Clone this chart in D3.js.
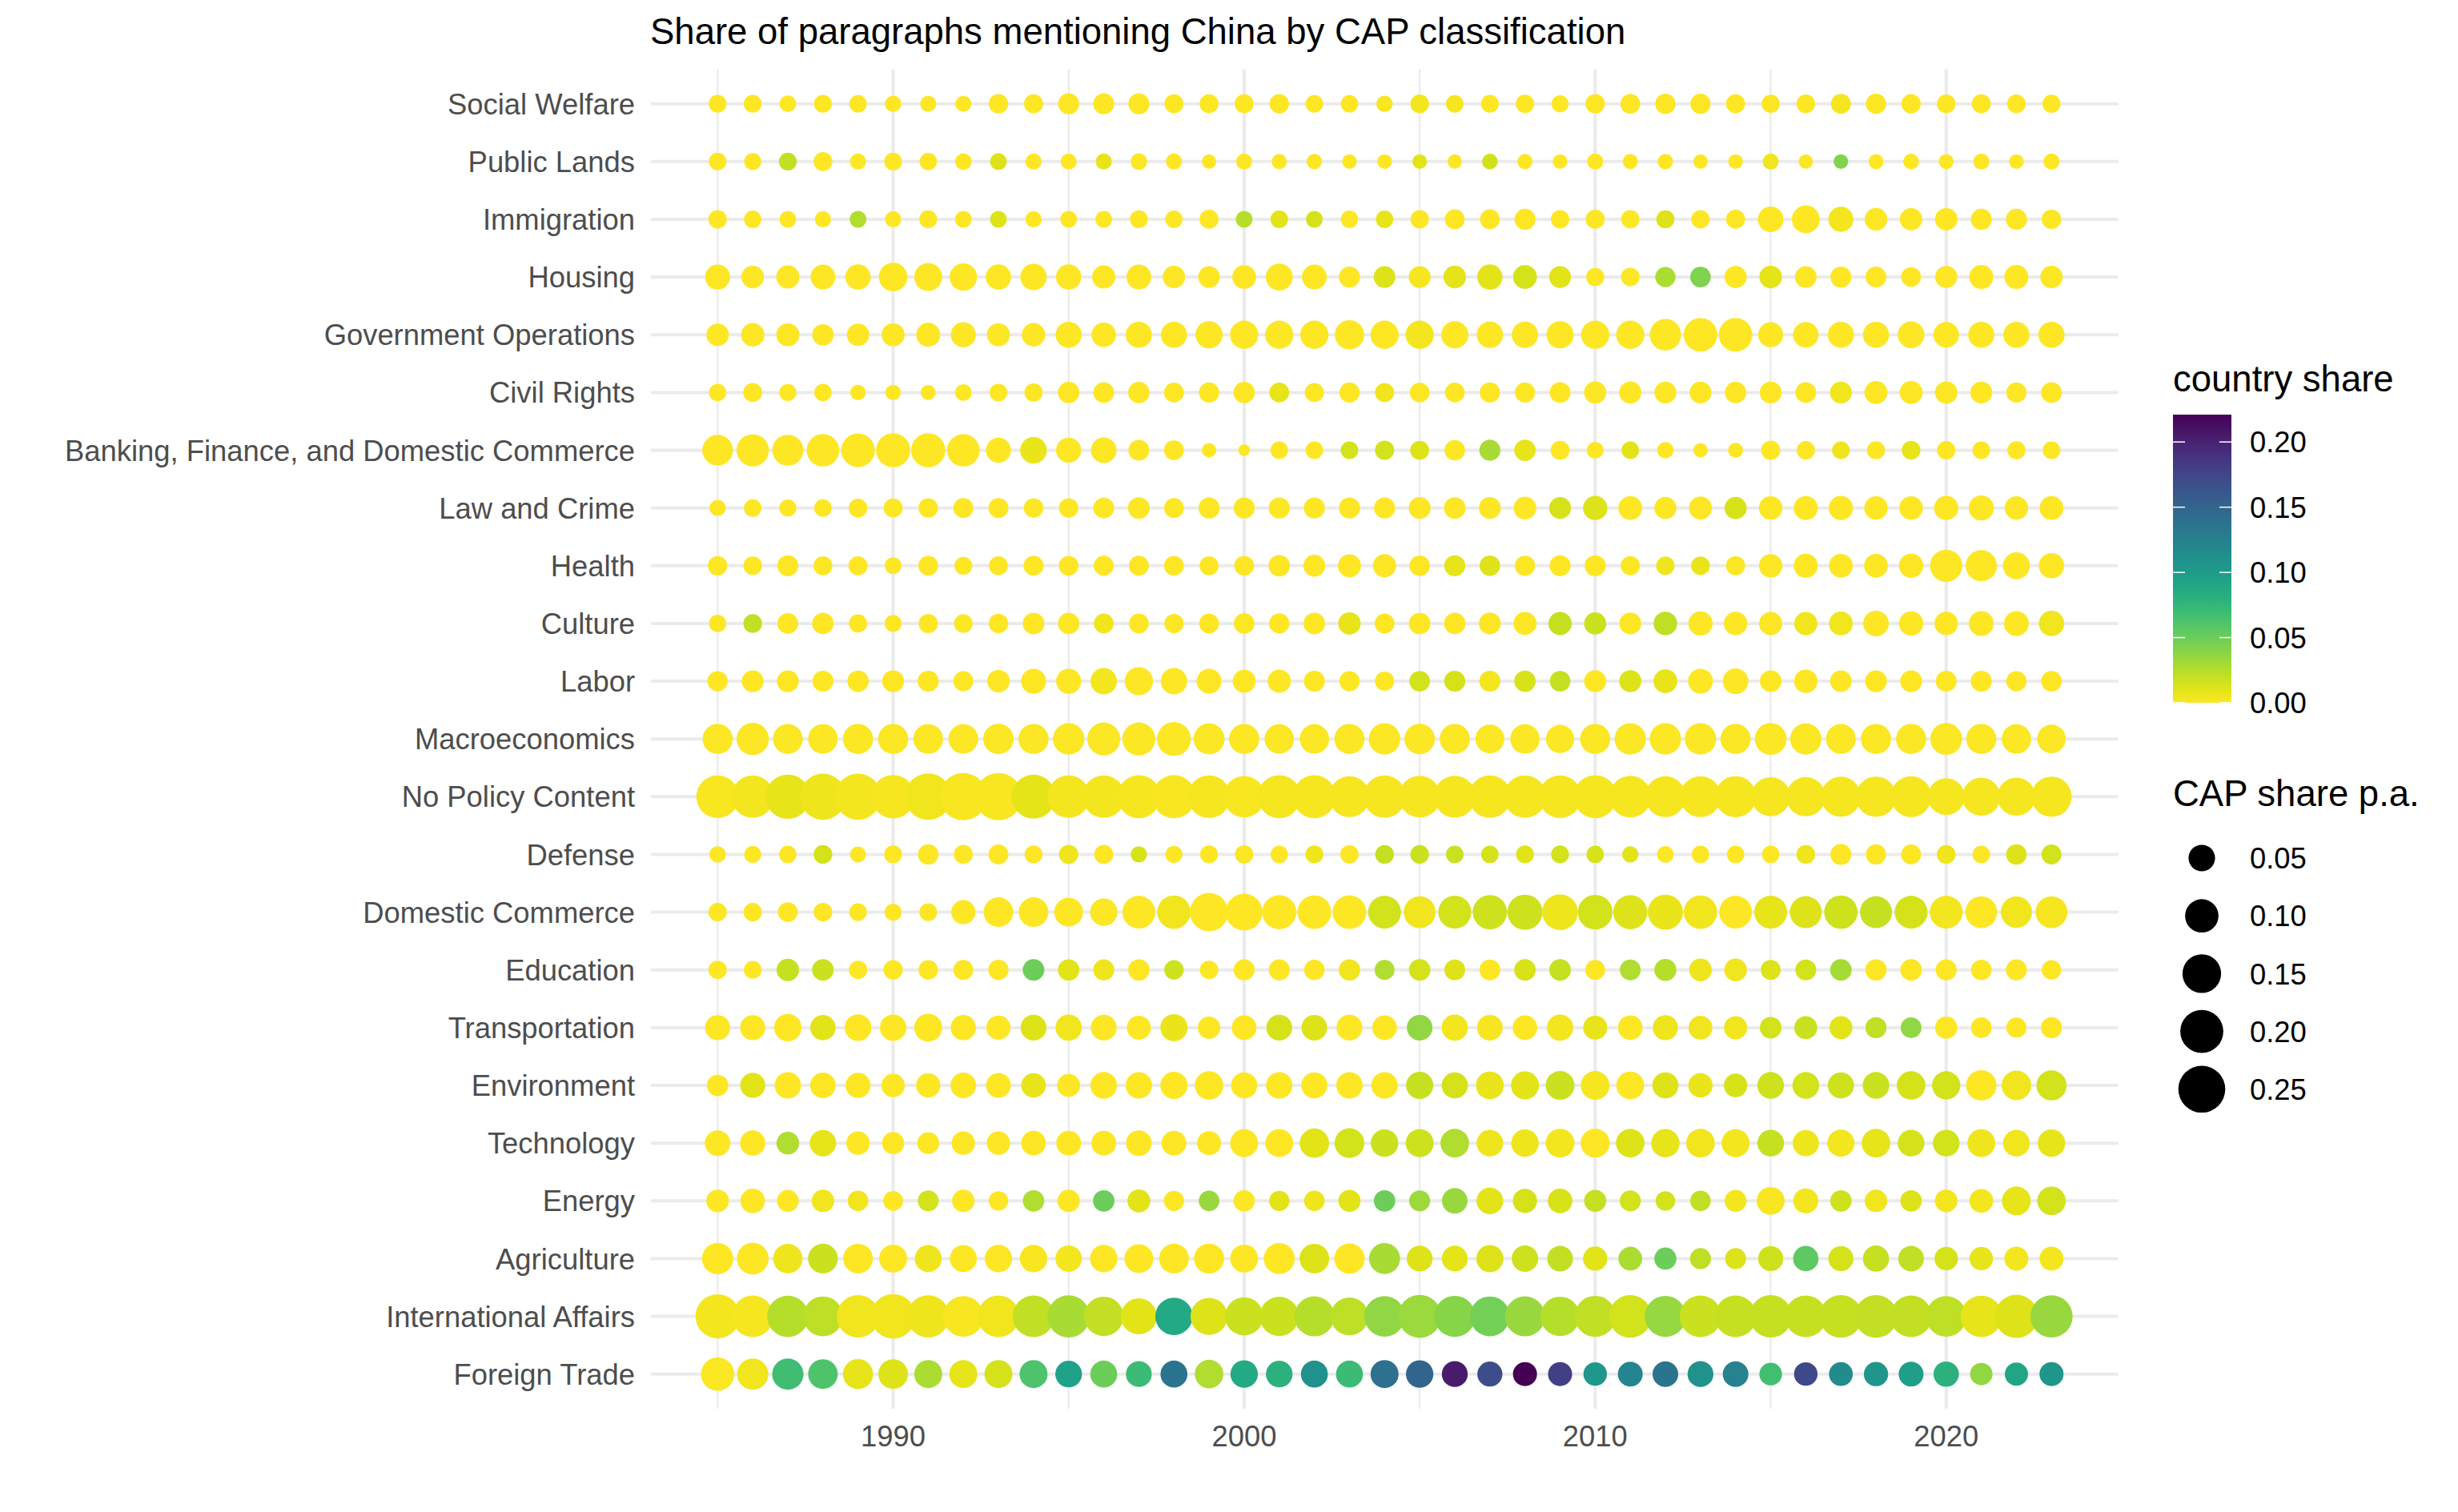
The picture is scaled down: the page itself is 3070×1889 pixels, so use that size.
<!DOCTYPE html>
<html><head><meta charset="utf-8">
<script src="https://cdn.jsdelivr.net/npm/d3@7"></script>
<style>
body{margin:0;background:#fff;}
svg{display:block;}
text{font-family:"Liberation Sans", Arial, Helvetica, sans-serif;}
</style>
</head><body>
<svg id="chart" width="3070" height="1889"></svg>
<script>
const titleText = "Share of paragraphs mentioning China by CAP classification";
const categories = ["Social Welfare","Public Lands","Immigration","Housing","Government Operations","Civil Rights","Banking, Finance, and Domestic Commerce","Law and Crime","Health","Culture","Labor","Macroeconomics","No Policy Content","Defense","Domestic Commerce","Education","Transportation","Environment","Technology","Energy","Agriculture","International Affairs","Foreign Trade"];
const years = [1985,1986,1987,1988,1989,1990,1991,1992,1993,1994,1995,1996,1997,1998,1999,2000,2001,2002,2003,2004,2005,2006,2007,2008,2009,2010,2011,2012,2013,2014,2015,2016,2017,2018,2019,2020,2021,2022,2023];
const xTicks = [1990,2000,2010,2020];
const xMinorTicks = [1985,1995,2005,2015];
const colorTicks = [0,0.05,0.10,0.15,0.20];
const sizeTicks = [0.05,0.10,0.15,0.20,0.25];

// CAP share p.a. (size) and country share (colour), one pair per category, years 1985-2023
const capSocialWelfare = [0.011,0.011,0.0083,0.011,0.0098,0.007,0.0065,0.0065,0.0162,0.0146, 0.0221,0.0221,0.0221,0.0146,0.0146,0.0146,0.0162,0.0104,0.0098,0.007, 0.0135,0.0104,0.011,0.0127,0.009,0.0162,0.0172,0.019,0.019,0.0146, 0.012,0.0135,0.018,0.019,0.016,0.0135,0.0146,0.0135,0.012];
const shareSocialWelfare = [0,0,0,0,0,0,0,0,0,0, 0,0,0,0,0,0,0,0,0,0.002, 0.004,0.003,0,0,0,0,0,0,0,0, 0,0,0.003,0,0,0,0,0,0];

const capPublicLands = [0.0104,0.009,0.011,0.0146,0.0065,0.011,0.0098,0.0077,0.0083,0.007, 0.0065,0.0065,0.0077,0.0065,0.0034,0.0065,0.0048,0.0053,0.0038,0.0038, 0.0038,0.0034,0.0059,0.0048,0.0038,0.0065,0.0048,0.0053,0.0034,0.0038, 0.0065,0.0034,0.0038,0.0044,0.0059,0.0044,0.0065,0.0038,0.0065];
const sharePublicLands = [0,0,0.02,0,0,0,0,0,0.012,0, 0,0.008,0,0,0,0,0,0,0,0, 0.01,0,0.016,0,0,0,0,0,0,0, 0.005,0,0.043,0,0,0,0,0,0];

const capImmigration = [0.0127,0.0098,0.0083,0.007,0.0083,0.007,0.011,0.0083,0.0083,0.007, 0.0083,0.0083,0.011,0.0098,0.0146,0.0083,0.0104,0.0083,0.0098,0.0098, 0.0127,0.0173,0.0173,0.0221,0.0127,0.0146,0.0127,0.012,0.0127,0.0146, 0.0444,0.058,0.0413,0.029,0.028,0.028,0.0221,0.0221,0.0162];
const shareImmigration = [0,0,0,0,0.026,0,0,0,0.012,0, 0,0,0,0,0,0.025,0.01,0.014,0,0.008, 0,0,0,0,0,0,0,0.012,0,0, 0,0,0.004,0,0,0,0,0,0];

const capHousing = [0.0413,0.029,0.0317,0.0399,0.0427,0.063,0.0592,0.0556,0.0427,0.0491, 0.0427,0.0317,0.0399,0.028,0.0245,0.0345,0.0525,0.0399,0.0221,0.0245, 0.0256,0.029,0.0427,0.0345,0.0256,0.012,0.0135,0.019,0.0202,0.0266, 0.029,0.0245,0.0221,0.0212,0.0173,0.0266,0.0357,0.0357,0.028];
const shareHousing = [0,0,0,0,0,0,0,0,0,0, 0,0,0,0,0,0,0,0,0,0.012, 0.003,0.009,0.01,0.014,0.01,0,0,0.028,0.043,0, 0.009,0,0,0,0,0,0,0,0];

const capGovernmentOperations = [0.028,0.0329,0.0305,0.0235,0.028,0.0305,0.0357,0.0413,0.0305,0.0329, 0.0475,0.0386,0.0475,0.0475,0.054,0.0608,0.0608,0.0608,0.0686,0.0608, 0.0608,0.054,0.0491,0.0491,0.054,0.0608,0.0608,0.0841,0.102,0.102, 0.0413,0.0444,0.0475,0.0475,0.0506,0.0444,0.0475,0.0475,0.0475];
const shareGovernmentOperations = [0,0,0,0,0,0,0,0,0,0, 0,0,0,0,0,0,0,0,0,0, 0.004,0,0,0,0,0,0,0,0,0, 0,0,0,0,0,0,0,0,0];

const capCivilRights = [0.0098,0.0146,0.009,0.0098,0.0053,0.0053,0.0044,0.0083,0.0104,0.012, 0.0235,0.0212,0.0235,0.0173,0.019,0.0235,0.0173,0.0153,0.019,0.0153, 0.0173,0.0173,0.019,0.019,0.0212,0.0266,0.0266,0.0256,0.0256,0.0235, 0.0256,0.0212,0.0256,0.0305,0.0305,0.028,0.0256,0.019,0.0212];
const shareCivilRights = [0,0,0,0,0,0,0,0,0,0, 0,0,0,0,0,0,0.008,0,0,0.005, 0,0,0,0,0,0,0,0,0,0, 0,0,0.005,0,0,0,0,0,0];

const capBanking = [0.0781,0.0904,0.0804,0.093,0.102,0.1065,0.1065,0.093,0.0413,0.0506, 0.0413,0.0444,0.0212,0.0173,0.0034,0.0005,0.0104,0.0104,0.0104,0.0153, 0.0146,0.0202,0.0221,0.0235,0.0146,0.0083,0.0104,0.0077,0.0034,0.0044, 0.0153,0.0127,0.0104,0.012,0.0135,0.0127,0.0104,0.012,0.0104];
const shareBanking = [0,0,0,0,0,0,0,0,0,0.007, 0,0,0,0,0,0,0,0,0.015,0.015, 0.012,0,0.029,0.008,0,0,0.01,0,0,0, 0,0,0.006,0,0.008,0,0,0,0];

const capLawCrime = [0.007,0.0104,0.009,0.0104,0.0135,0.0146,0.0162,0.018,0.018,0.0162, 0.0162,0.0212,0.0245,0.0173,0.0221,0.0221,0.0221,0.0221,0.0221,0.0221, 0.0256,0.0245,0.0256,0.029,0.0256,0.0369,0.0345,0.0266,0.0305,0.0266, 0.0329,0.0357,0.0369,0.0329,0.0329,0.0369,0.0413,0.0329,0.0345];
const shareLawCrime = [0,0,0,0,0,0,0,0,0,0, 0,0,0,0,0,0,0,0,0,0, 0,0,0,0,0.014,0.012,0,0,0,0.013, 0,0,0,0,0,0,0,0,0];

const capHealth = [0.0162,0.0135,0.0221,0.0146,0.0146,0.0083,0.0173,0.011,0.0146,0.018, 0.0173,0.018,0.018,0.0173,0.0146,0.0173,0.0235,0.0256,0.0305,0.0317, 0.0202,0.0221,0.0202,0.019,0.0221,0.0221,0.0153,0.0127,0.0135,0.0153, 0.0329,0.0357,0.0345,0.0345,0.0369,0.0904,0.0826,0.0525,0.0427];
const shareHealth = [0,0,0,0,0,0,0,0,0,0, 0,0,0,0,0,0,0,0,0,0, 0,0.008,0.012,0,0,0,0,0.006,0.007,0, 0,0,0,0,0,0,0,0,0];

const capCulture = [0.0098,0.0135,0.0212,0.0235,0.012,0.009,0.0153,0.0135,0.0162,0.0245, 0.0235,0.0173,0.0173,0.0153,0.0173,0.0202,0.019,0.0245,0.028,0.0173, 0.0245,0.0235,0.0256,0.0305,0.0317,0.0266,0.0256,0.0329,0.0369,0.0329, 0.0317,0.0317,0.0345,0.0444,0.0369,0.0329,0.0399,0.0399,0.0427];
const shareCulture = [0,0.02,0,0,0,0,0,0,0,0, 0,0.005,0,0,0,0,0,0,0.008,0, 0,0,0,0,0.019,0.018,0,0.022,0,0, 0,0.005,0.005,0,0,0,0,0,0.005];

const capLabor = [0.019,0.0256,0.0256,0.0221,0.0235,0.0256,0.0221,0.018,0.029,0.0413, 0.0413,0.0491,0.0608,0.0491,0.0399,0.0305,0.0317,0.0221,0.019,0.0153, 0.0202,0.0221,0.0221,0.0235,0.0202,0.0266,0.0266,0.0345,0.0399,0.0444, 0.0245,0.0329,0.0245,0.0256,0.0256,0.0212,0.0221,0.019,0.0202];
const shareLabor = [0,0,0,0,0,0,0,0,0,0, 0,0.004,0,0,0,0,0,0,0,0, 0.015,0.014,0.004,0.013,0.019,0,0.012,0.008,0,0, 0,0,0,0,0,0,0,0,0];

const capMacroeconomics = [0.0737,0.0904,0.0714,0.0702,0.0737,0.0737,0.0702,0.0702,0.076,0.0737, 0.0841,0.0962,0.0962,0.1035,0.0804,0.0737,0.0686,0.0686,0.0737,0.0841, 0.076,0.0737,0.0646,0.0686,0.0608,0.0737,0.0841,0.0841,0.0841,0.0737, 0.0868,0.0826,0.0714,0.0737,0.0737,0.0868,0.0737,0.0686,0.063];
const shareMacroeconomics = [0.001,0.001,0.001,0.001,0.001,0.001,0.001,0.001,0.001,0.001, 0.001,0.001,0.001,0.001,0.001,0.001,0.001,0.001,0.001,0.001, 0.001,0.001,0.001,0.001,0.001,0.001,0.001,0.001,0.001,0.001, 0.001,0.001,0.001,0.001,0.001,0.001,0.001,0.001,0.001];

const capNoPolicy = [0.1954,0.1925,0.215,0.240,0.240,0.205,0.243,0.254,0.254,0.212, 0.1925,0.1925,0.199,0.202,0.1954,0.180,0.199,0.199,0.174,0.1925, 0.183,0.186,0.1925,0.1925,0.1954,0.199,0.183,0.174,0.174,0.177, 0.154,0.156,0.165,0.168,0.174,0.1316,0.145,0.145,0.168];
const shareNoPolicy = [0.002,0.004,0.008,0.006,0.004,0.003,0.005,0.002,0.002,0.009, 0.004,0.004,0.003,0.002,0.003,0.002,0.003,0.003,0.003,0.003, 0.003,0.003,0.003,0.003,0.003,0.003,0.003,0.003,0.003,0.003, 0.003,0.003,0.003,0.003,0.003,0.003,0.003,0.003,0.003];

const capDefense = [0.0077,0.009,0.0098,0.0135,0.0065,0.011,0.0202,0.0146,0.018,0.011, 0.0153,0.0146,0.007,0.009,0.011,0.0127,0.0098,0.011,0.0127,0.0135, 0.0135,0.0104,0.0098,0.011,0.011,0.0098,0.007,0.0083,0.0098,0.0098, 0.0098,0.0135,0.0221,0.019,0.018,0.0135,0.0104,0.0202,0.018];
const shareDefense = [0,0,0,0.014,0,0,0,0,0,0, 0.006,0,0.014,0,0,0,0,0.006,0,0.019, 0.018,0.018,0.014,0.01,0.015,0.013,0.01,0,0,0, 0,0.006,0,0,0,0.006,0,0.012,0.015];

const capDomesticCommerce = [0.0127,0.0127,0.0173,0.0135,0.0104,0.009,0.011,0.0369,0.0702,0.0702, 0.0646,0.0556,0.0955,0.100,0.148,0.1316,0.1065,0.102,0.102,0.0955, 0.0868,0.0962,0.1085,0.116,0.121,0.111,0.1065,0.116,0.100,0.0955, 0.0955,0.0885,0.100,0.0885,0.0955,0.0955,0.0868,0.0826,0.0868];
const shareDomesticCommerce = [0,0,0,0,0,0,0,0,0,0, 0,0,0,0.005,0,0,0,0,0,0.015, 0.005,0.015,0.017,0.017,0.006,0.015,0.012,0.007,0.005,0, 0.008,0.012,0.017,0.019,0.014,0.004,0,0.005,0.003];

const capEducation = [0.0127,0.011,0.028,0.0245,0.0127,0.0162,0.0162,0.018,0.019,0.0245, 0.0235,0.0221,0.0235,0.0162,0.0127,0.0221,0.0221,0.0202,0.0235,0.018, 0.0245,0.0212,0.0212,0.0245,0.0245,0.018,0.0212,0.0266,0.029,0.029, 0.018,0.0212,0.0245,0.0235,0.0245,0.0221,0.0202,0.0221,0.0162];
const shareEducation = [0,0,0.019,0.018,0,0,0,0,0,0.05, 0.01,0.006,0,0.017,0,0,0,0,0.005,0.026, 0.014,0.012,0,0.013,0.019,0,0.026,0.025,0.006,0.005, 0.012,0.015,0.03,0,0,0,0,0,0];

const capTransportation = [0.0413,0.0413,0.0556,0.0427,0.0506,0.0491,0.0592,0.0427,0.0369,0.0458, 0.0475,0.0458,0.0357,0.054,0.028,0.0386,0.0458,0.0444,0.0458,0.0386, 0.0444,0.0475,0.0444,0.0386,0.0475,0.0357,0.0386,0.0413,0.0345,0.0317, 0.0245,0.0305,0.0305,0.0221,0.0212,0.0266,0.0202,0.019,0.0221];
const shareTransportation = [0,0,0,0.01,0,0,0,0,0,0.012, 0.005,0,0,0.007,0,0,0.014,0.012,0,0, 0.037,0.004,0.003,0,0.004,0.008,0,0.006,0.005,0.005, 0.015,0.018,0.01,0.021,0.037,0,0,0,0];

const capEnvironment = [0.0235,0.0413,0.0491,0.0444,0.0413,0.0329,0.0369,0.0444,0.0399,0.0386, 0.0305,0.0506,0.0491,0.054,0.063,0.0475,0.0491,0.0475,0.0491,0.0491, 0.054,0.0475,0.058,0.0592,0.0646,0.0646,0.058,0.0475,0.0369,0.0329, 0.0506,0.0506,0.0475,0.0506,0.063,0.0608,0.076,0.0702,0.0737];
const shareEnvironment = [0,0.01,0,0,0,0,0,0,0,0.008, 0,0,0,0,0,0,0,0,0,0, 0.019,0.014,0.007,0.01,0.018,0.003,0,0.012,0.007,0.013, 0.017,0.015,0.017,0.018,0.014,0.015,0,0.005,0.015];

const capTechnology = [0.0444,0.0427,0.029,0.0491,0.0329,0.0266,0.0256,0.0329,0.0329,0.0386, 0.0399,0.0399,0.0444,0.0399,0.0357,0.0592,0.058,0.0686,0.0714,0.0556, 0.0592,0.063,0.0506,0.0556,0.0646,0.0663,0.063,0.0608,0.063,0.0592, 0.0506,0.0475,0.054,0.063,0.0506,0.0506,0.058,0.0506,0.0556];
const shareTechnology = [0,0,0.026,0.008,0,0,0,0,0,0, 0,0,0,0,0,0,0,0.01,0.015,0.018, 0.017,0.026,0.006,0.006,0.004,0,0.012,0.008,0.005,0.004, 0.019,0.006,0.004,0.008,0.014,0.015,0.006,0.005,0.008];

const capEnergy = [0.029,0.0386,0.0256,0.028,0.0202,0.0173,0.0212,0.028,0.0162,0.0235, 0.028,0.0235,0.0305,0.019,0.0202,0.0235,0.019,0.0202,0.0266,0.0235, 0.0221,0.0444,0.0506,0.0369,0.0386,0.0266,0.0221,0.0162,0.0202,0.0256, 0.058,0.0413,0.0235,0.028,0.0235,0.029,0.0345,0.0646,0.063];
const shareEnergy = [0,0,0,0.005,0.005,0,0.015,0,0,0.026, 0,0.05,0.01,0,0.034,0,0.01,0.006,0.01,0.05, 0.032,0.034,0.01,0.014,0.013,0.019,0.015,0.015,0.02,0.004, 0.002,0.004,0.017,0.005,0.012,0.004,0.004,0.008,0.015];

const capAgriculture = [0.0826,0.0868,0.0686,0.0714,0.0702,0.0592,0.0525,0.0525,0.0556,0.0556, 0.0491,0.0556,0.0646,0.0714,0.0737,0.0592,0.0804,0.0702,0.076,0.0804, 0.0458,0.0458,0.054,0.0491,0.0444,0.0369,0.0345,0.0266,0.0221,0.0221, 0.0413,0.0427,0.0413,0.0475,0.0444,0.0329,0.0329,0.0357,0.0357];
const shareAgriculture = [0,0,0.006,0.018,0,0,0.006,0,0,0.002, 0.004,0,0,0,0,0,0,0.012,0,0.029, 0.012,0.009,0.012,0.017,0.02,0.01,0.028,0.05,0.022,0.012, 0.017,0.055,0.014,0.019,0.021,0.014,0.008,0.004,0.004];

const capInternational = [0.215,0.183,0.180,0.1625,0.1925,0.219,0.1897,0.171,0.183,0.183, 0.1897,0.159,0.124,0.137,0.134,0.145,0.156,0.165,0.142,0.171, 0.199,0.177,0.1625,0.165,0.159,0.177,0.1954,0.177,0.183,0.183, 0.1925,0.183,0.1954,0.1954,0.183,0.171,0.180,0.202,0.1897];
const shareInternational = [0.004,0.003,0.025,0.022,0.005,0.005,0.006,0.002,0.005,0.021, 0.029,0.02,0.01,0.088,0.012,0.018,0.018,0.025,0.022,0.037, 0.033,0.04,0.047,0.034,0.025,0.021,0.015,0.035,0.018,0.019, 0.019,0.019,0.019,0.02,0.02,0.022,0.008,0.012,0.034];

const capForeignTrade = [0.100,0.0826,0.0826,0.0702,0.0737,0.0702,0.0592,0.0592,0.0592,0.0592, 0.0506,0.0525,0.0458,0.0525,0.063,0.0556,0.0506,0.0525,0.0525,0.0592, 0.0556,0.0458,0.0413,0.0357,0.0357,0.0329,0.0399,0.0444,0.0458,0.0444, 0.029,0.0329,0.0345,0.0369,0.0399,0.0427,0.028,0.0317,0.0357];
const shareForeignTrade = [0.001,0.005,0.068,0.062,0.008,0.012,0.028,0.008,0.014,0.062, 0.094,0.05,0.07,0.136,0.026,0.088,0.08,0.11,0.07,0.139, 0.15,0.205,0.17,0.221,0.18,0.104,0.12,0.136,0.11,0.123, 0.067,0.172,0.115,0.105,0.098,0.08,0.037,0.09,0.105];

const capSeries = [capSocialWelfare,capPublicLands,capImmigration,capHousing,capGovernmentOperations,capCivilRights,capBanking,capLawCrime,capHealth,capCulture,capLabor,capMacroeconomics,capNoPolicy,capDefense,capDomesticCommerce,capEducation,capTransportation,capEnvironment,capTechnology,capEnergy,capAgriculture,capInternational,capForeignTrade];
const shareSeries = [shareSocialWelfare,sharePublicLands,shareImmigration,shareHousing,shareGovernmentOperations,shareCivilRights,shareBanking,shareLawCrime,shareHealth,shareCulture,shareLabor,shareMacroeconomics,shareNoPolicy,shareDefense,shareDomesticCommerce,shareEducation,shareTransportation,shareEnvironment,shareTechnology,shareEnergy,shareAgriculture,shareInternational,shareForeignTrade];

const points = [];
categories.forEach((c, ci) => {
  years.forEach((yr, yi) => {
    points.push({cat: c, year: yr, cap: capSeries[ci][yi], share: shareSeries[ci][yi]});
  });
});

const svg = d3.select("#chart");
const x = d3.scaleLinear().domain([1985, 2023]).range([896.3, 2562.3]);
const y = d3.scalePoint().domain(categories).range([129.7, 1716.7]);
const step = y.step();
const span = 2023 - 1985;
const panelLeft = x(1985 - 0.05 * span), panelRight = x(2023 + 0.05 * span);
const panelTop = y(categories[0]) - 0.6 * step;
const panelBottom = y(categories[categories.length - 1]) + 0.6 * step;

const maxShare = d3.max(points, d => d.share);
const color = d3.scaleSequential(t => d3.interpolateViridis(1 - t)).domain([0, maxShare]);
const radius = d3.scaleSqrt().domain([0, 0.265]).range([6.3, 30]);

const grid = svg.append("g");
grid.selectAll("line.hmaj").data(categories).join("line")
  .attr("x1", panelLeft).attr("x2", panelRight)
  .attr("y1", d => y(d)).attr("y2", d => y(d))
  .attr("stroke", "#EBEBEB").attr("stroke-width", 4);
grid.selectAll("line.vmin").data(xMinorTicks).join("line")
  .attr("x1", d => x(d)).attr("x2", d => x(d))
  .attr("y1", panelTop).attr("y2", panelBottom)
  .attr("stroke", "#EBEBEB").attr("stroke-width", 2.2);
grid.selectAll("line.vmaj").data(xTicks).join("line")
  .attr("x1", d => x(d)).attr("x2", d => x(d))
  .attr("y1", panelTop).attr("y2", panelBottom)
  .attr("stroke", "#EBEBEB").attr("stroke-width", 4);

svg.append("g").selectAll("circle").data(points).join("circle")
  .attr("cx", d => x(d.year)).attr("cy", d => y(d.cat))
  .attr("r", d => radius(d.cap))
  .attr("fill", d => color(d.share));

// axes text
svg.append("g").selectAll("text").data(categories).join("text")
  .attr("x", 793).attr("y", d => y(d)).attr("dy", "0.36em")
  .attr("text-anchor", "end").attr("font-size", 36.4).attr("fill", "#4D4D4D")
  .text(d => d);
svg.append("g").selectAll("text").data(xTicks).join("text")
  .attr("x", d => x(d)).attr("y", 1807)
  .attr("text-anchor", "middle").attr("font-size", 36.4).attr("fill", "#4D4D4D")
  .text(d => d);

svg.append("text").attr("x", 812).attr("y", 55).attr("font-size", 45.5).attr("fill", "#000")
  .text(titleText);

// colour legend
const lx = 2714, barW = 73;
svg.append("text").attr("x", lx).attr("y", 489).attr("font-size", 45.5).text("country share");
const cy = d3.scaleLinear().domain([0, maxShare]).range([878, 518]);
const defs = svg.append("defs");
const grad = defs.append("linearGradient").attr("id", "vgrad")
  .attr("x1", 0).attr("y1", 1).attr("x2", 0).attr("y2", 0);
d3.range(0, 1.0001, 0.05).forEach(t => {
  grad.append("stop").attr("offset", t).attr("stop-color", color(t * maxShare));
});
svg.append("rect").attr("x", lx).attr("y", cy(maxShare)).attr("width", barW)
  .attr("height", cy(0) - cy(maxShare)).attr("fill", "url(#vgrad)");
const cl = svg.append("g");
colorTicks.forEach(v => {
  cl.append("line").attr("x1", lx).attr("x2", lx + 15).attr("y1", cy(v)).attr("y2", cy(v))
    .attr("stroke", "#fff").attr("stroke-width", 1.5);
  cl.append("line").attr("x1", lx + barW - 15).attr("x2", lx + barW).attr("y1", cy(v)).attr("y2", cy(v))
    .attr("stroke", "#fff").attr("stroke-width", 1.5);
  cl.append("text").attr("x", 2810).attr("y", cy(v)).attr("dy", "0.36em")
    .attr("font-size", 36.4).text(d3.format(".2f")(v));
});

// size legend
svg.append("text").attr("x", lx).attr("y", 1007).attr("font-size", 45.5).text("CAP share p.a.");
const sl = svg.append("g");
sizeTicks.forEach((v, i) => {
  const yy = 1072 + i * 72.2;
  sl.append("circle").attr("cx", 2750).attr("cy", yy).attr("r", radius(v)).attr("fill", "#000");
  sl.append("text").attr("x", 2810).attr("y", yy).attr("dy", "0.36em")
    .attr("font-size", 36.4).text(d3.format(".2f")(v));
});
</script>
</body></html>
